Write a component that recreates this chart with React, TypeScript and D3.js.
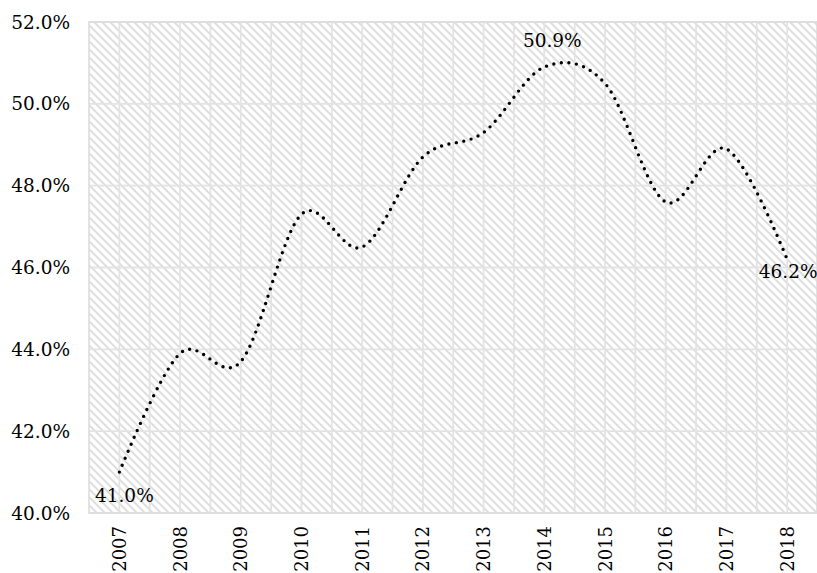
import { useEffect, useRef } from 'react'
import * as d3 from 'd3'

const WIDTH = 817
const HEIGHT = 573
const MARGIN = { top: 22, right: 0, bottom: 60, left: 89 }
const FONT = '"DejaVu Serif", serif'

const years = ['2007', '2008', '2009', '2010', '2011', '2012', '2013', '2014', '2015', '2016', '2017', '2018']
const shares = [41.0, 43.9, 43.7, 47.3, 46.5, 48.7, 49.3, 50.9, 50.5, 47.6, 48.9, 46.2]
const yTicks = [40, 42, 44, 46, 48, 50, 52]
const labeledYears = ['2007', '2014', '2018']

// where each data label sits relative to its point
const labelOffsets: Record<string, { dx: number; dy: number }> = {
  '2007': { dx: 5, dy: 30 },
  '2014': { dx: 8, dy: -20 },
  '2018': { dx: 1, dy: 19 },
}

export default function App() {
  const svgRef = useRef<SVGSVGElement>(null)

  useEffect(() => {
    const svg = d3.select(svgRef.current)
    svg.selectAll('*').remove()

    const left = MARGIN.left
    const right = WIDTH - MARGIN.right
    const top = MARGIN.top
    const bottom = HEIGHT - MARGIN.bottom

    const x = d3.scaleBand<string>().domain(years).range([left, right + 0.5]).padding(0)
    const y = d3.scaleLinear().domain([40, 52]).range([bottom, top])
    const cx = (year: string) => (x(year) ?? 0) + x.bandwidth() / 2

    const defs = svg.append('defs')
    const pattern = defs
      .append('pattern')
      .attr('id', 'hatch')
      .attr('patternUnits', 'userSpaceOnUse')
      .attr('width', 8)
      .attr('height', 8)
    pattern.append('rect').attr('width', 8).attr('height', 8).attr('fill', '#fff')
    pattern
      .append('path')
      .attr('d', 'M-2,-2 L10,10 M-2,6 L2,10 M6,-2 L10,2')
      .attr('stroke', '#dcdcdc')
      .attr('stroke-width', 1.9)

    svg
      .append('rect')
      .attr('x', left)
      .attr('y', top)
      .attr('width', right - left)
      .attr('height', bottom - top)
      .attr('fill', 'url(#hatch)')

    const grid = svg.append('g').attr('stroke', '#e3e3e3').attr('stroke-width', 1.8)

    grid
      .selectAll('line.h')
      .data(yTicks)
      .join('line')
      .attr('class', 'h')
      .attr('x1', left)
      .attr('x2', right)
      .attr('y1', (d) => y(d))
      .attr('y2', (d) => y(d))

    const verticals = years.flatMap((year) => [x(year) ?? 0, cx(year)]).filter((v) => v > left + 1)
    grid
      .selectAll('line.v')
      .data(verticals)
      .join('line')
      .attr('class', 'v')
      .attr('x1', (d) => d)
      .attr('x2', (d) => d)
      .attr('y1', top)
      .attr('y2', bottom)

    svg
      .append('rect')
      .attr('x', left)
      .attr('y', top)
      .attr('width', right - left)
      .attr('height', bottom - top)
      .attr('fill', 'none')
      .attr('stroke', '#dcdcdc')
      .attr('stroke-width', 1.6)

    // y axis labels
    svg
      .append('g')
      .selectAll('text')
      .data(yTicks)
      .join('text')
      .attr('x', 70)
      .attr('y', (d) => y(d))
      .attr('text-anchor', 'end')
      .attr('dominant-baseline', 'central')
      .attr('font-family', FONT)
      .attr('font-size', 18.5)
      .attr('fill', '#000')
      .text((d) => `${d.toFixed(1)}%`)

    // x axis labels, rotated
    svg
      .append('g')
      .selectAll('text')
      .data(years)
      .join('text')
      .attr('transform', (d) => `translate(${cx(d)},${bottom + 13}) rotate(-90)`)
      .attr('text-anchor', 'end')
      .attr('dominant-baseline', 'central')
      .attr('font-family', FONT)
      .attr('font-size', 18)
      .attr('fill', '#000')
      .text((d) => d)

    const points = years.map((year, i) => ({ year, value: shares[i] }))

    const line = d3
      .line<{ year: string; value: number }>()
      .x((d) => cx(d.year))
      .y((d) => y(d.value))
      .curve(d3.curveCardinal.tension(0))

    svg
      .append('path')
      .datum(points)
      .attr('d', line)
      .attr('fill', 'none')
      .attr('stroke', '#000')
      .attr('stroke-width', 3.4)
      .attr('stroke-linecap', 'round')
      .attr('stroke-dasharray', '0 7.6')

    svg
      .append('g')
      .selectAll('text')
      .data(points.filter((p) => labeledYears.includes(p.year)))
      .join('text')
      .attr('x', (d) => cx(d.year) + labelOffsets[d.year].dx)
      .attr('y', (d) => y(d.value) + labelOffsets[d.year].dy)
      .attr('text-anchor', 'middle')
      .attr('font-family', FONT)
      .attr('font-size', 18.5)
      .attr('fill', '#000')
      .text((d) => `${d.value.toFixed(1)}%`)
  }, [])

  return (
    <svg
      ref={svgRef}
      width={WIDTH}
      height={HEIGHT}
      style={{ position: 'absolute', left: 0, top: 0, background: '#fff' }}
    />
  )
}
